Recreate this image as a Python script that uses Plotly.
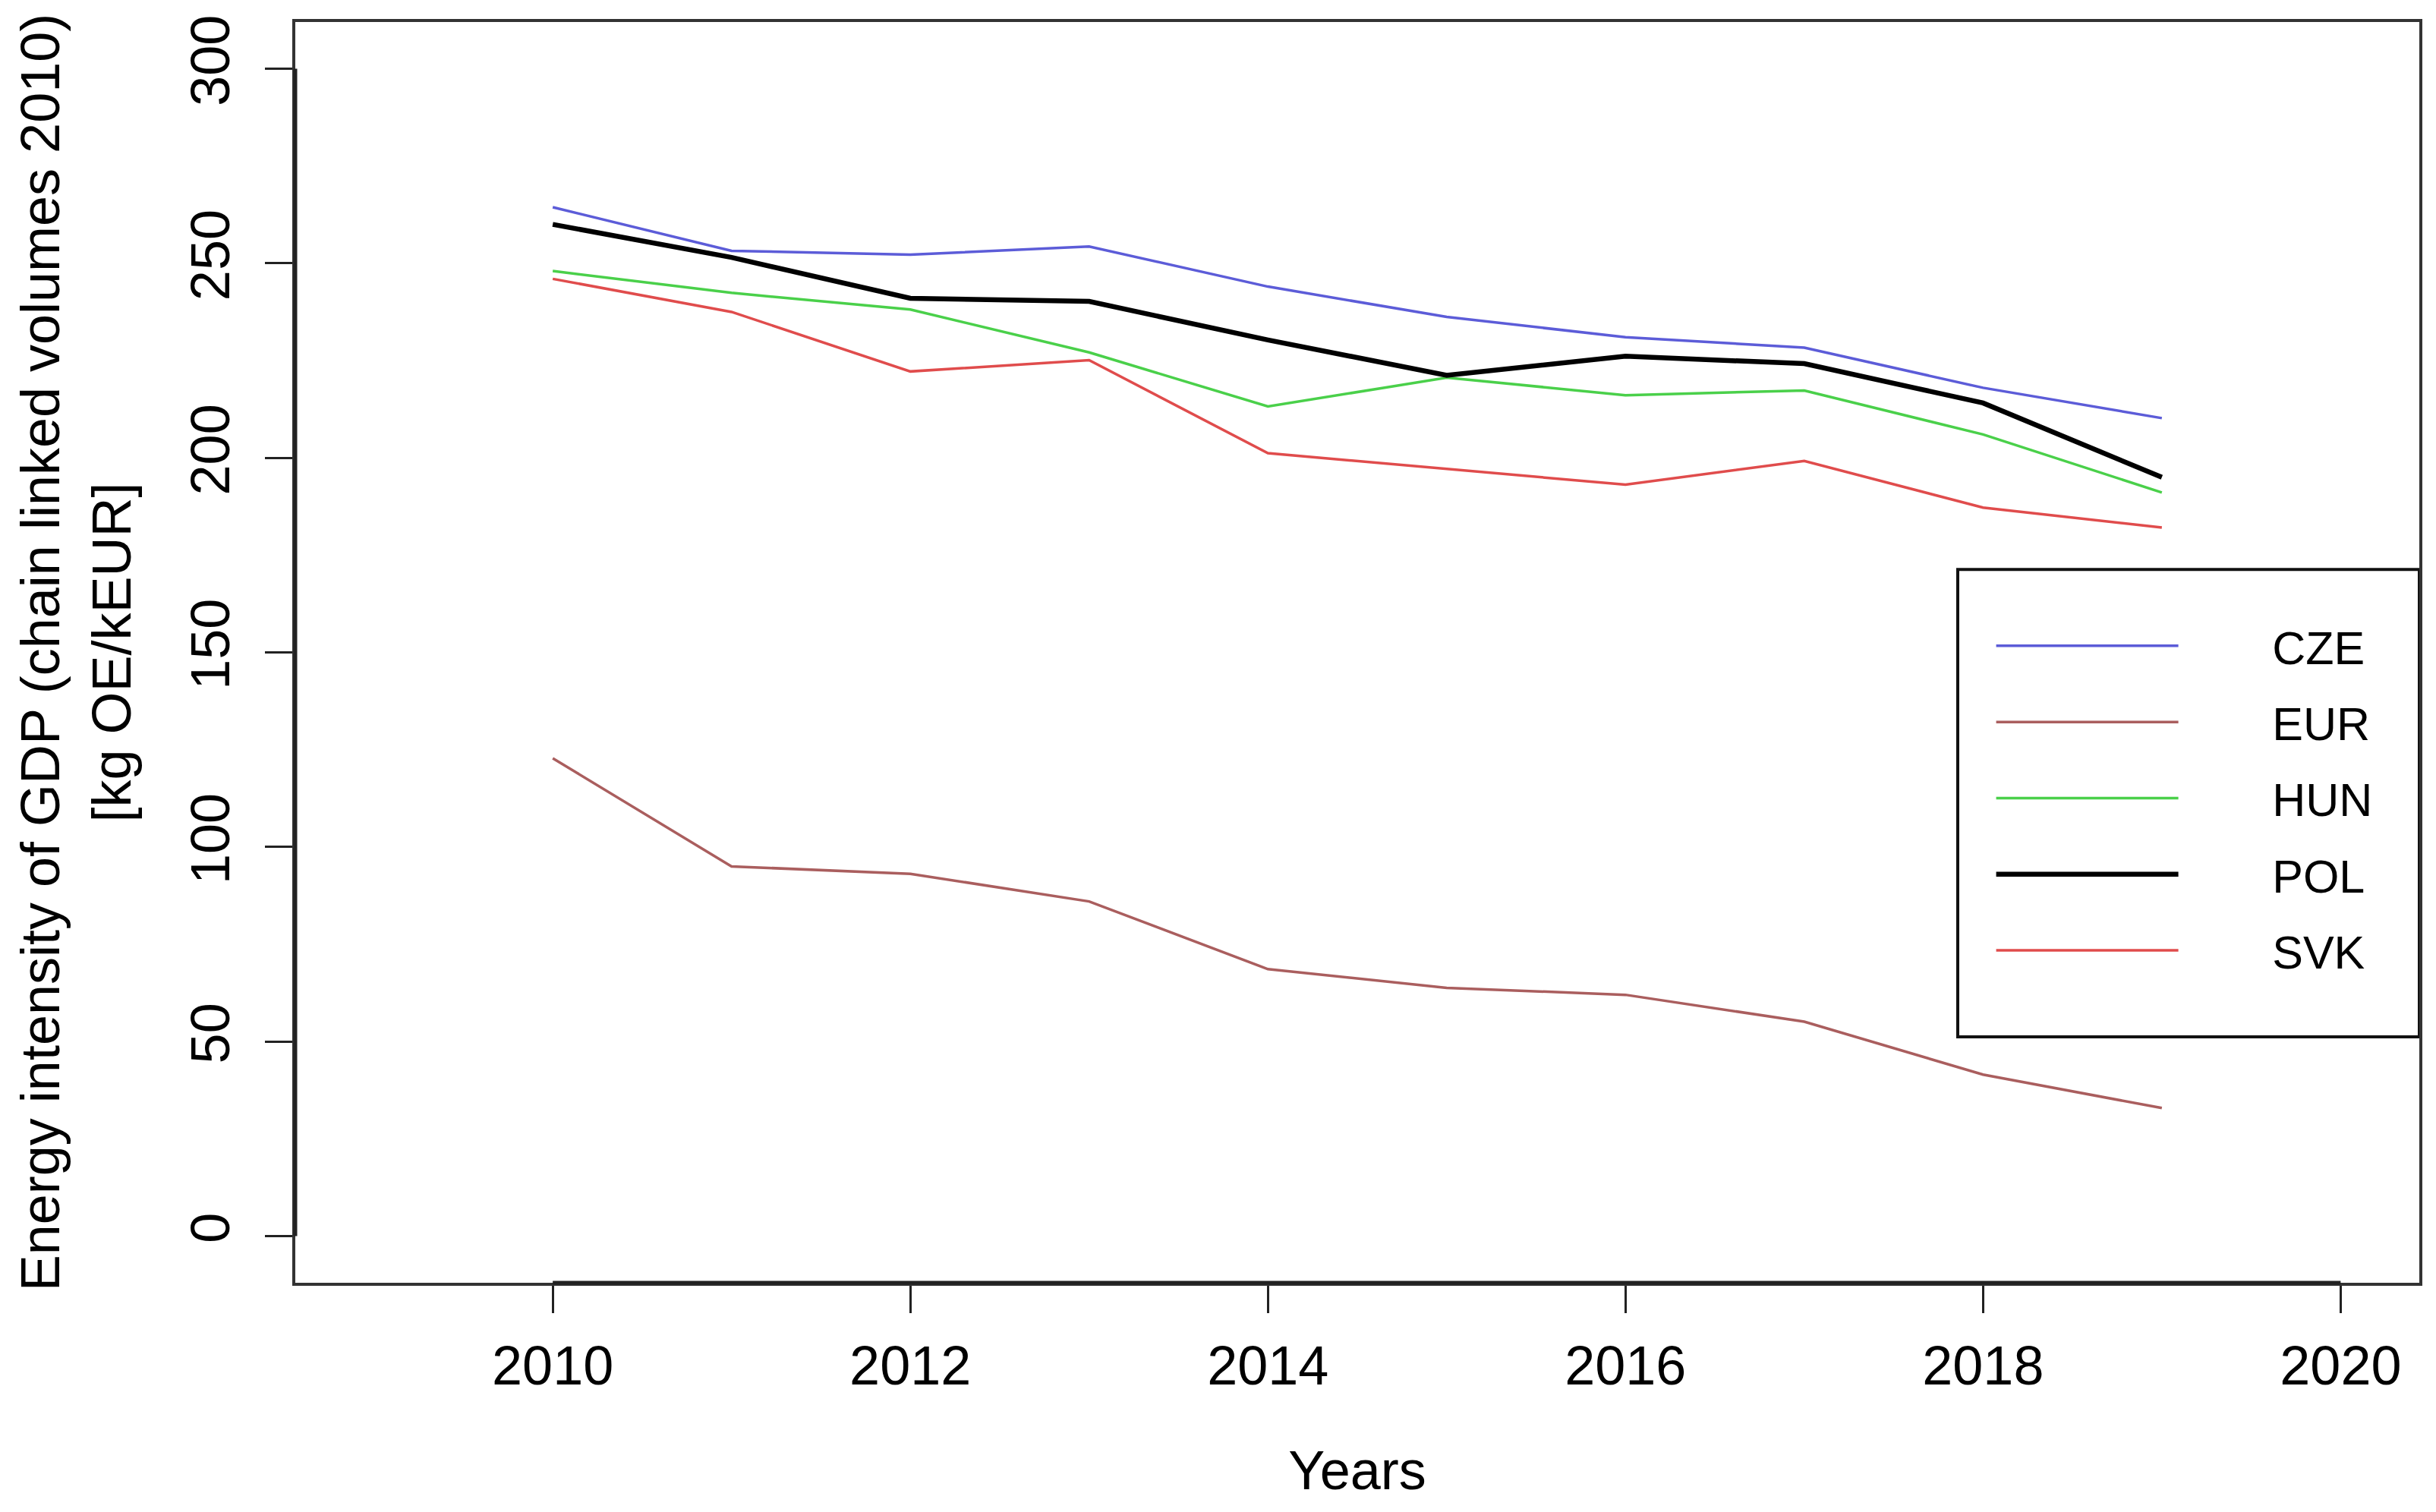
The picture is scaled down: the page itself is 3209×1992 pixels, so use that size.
import plotly.graph_objects as go

years = [2010, 2011, 2012, 2013, 2014, 2015, 2016, 2017, 2018, 2019]
CZE = [264.4, 253.2, 252.2, 254.3, 244.0, 236.2, 231.0, 228.3, 218.0, 210.2]
EUR = [122.8, 95.0, 93.1, 86.0, 68.6, 63.8, 62.0, 55.1, 41.5, 32.9]
HUN = [248.0, 242.4, 238.1, 227.1, 213.2, 220.6, 216.1, 217.3, 206.0, 191.1]
POL = [260.0, 251.5, 241.0, 240.2, 230.3, 221.2, 226.1, 224.2, 214.1, 195.0]
SVK = [246.0, 237.5, 222.2, 225.1, 201.2, 197.1, 193.1, 199.2, 187.2, 182.1]

series_names = ["CZE", "EUR", "HUN", "POL", "SVK"]
series_values = [CZE, EUR, HUN, POL, SVK]
series_colors = ["#5c5cd8", "#aa5e5e", "#4ad04a", "#000000", "#e04c4c"]
series_widths = [3.5, 3.5, 3.5, 6.5, 3.5]

x_ticks = [2010, 2012, 2014, 2016, 2018, 2020]
y_ticks = [0, 50, 100, 150, 200, 250, 300]

FONT = "Liberation Sans, Arial, Helvetica, sans-serif"
PAD = "\u00a0" * 7

fig = go.Figure()
for name, vals, col, w in zip(series_names, series_values, series_colors, series_widths):
    fig.add_trace(go.Scatter(
        x=years, y=vals, mode="lines", name=PAD + name, legendgroup=name,
        line=dict(color=col, width=w),
    ))

# legend frame
fig.add_shape(type="rect", xref="paper", yref="paper",
              x0=0.7827, x1=1.0, y0=0.195, y1=0.5657,
              line=dict(color="#111", width=4), fillcolor="white", layer="below")

# R-style axis segments spanning first to last tick
fig.add_shape(type="line", xref="x", yref="paper",
              x0=x_ticks[0], x1=x_ticks[-1], y0=0, y1=0,
              line=dict(color="#222", width=5), layer="above")
fig.add_shape(type="line", xref="paper", yref="y",
              x0=0, x1=0, y0=y_ticks[0], y1=y_ticks[-1],
              line=dict(color="#222", width=5), layer="above")

fig.update_layout(
    width=3209, height=1992,
    margin=dict(l=381, r=30, t=15, b=310),
    paper_bgcolor="white", plot_bgcolor="white",
    font=dict(family=FONT, size=72, color="black"),
    showlegend=True,
    legend=dict(
        x=0.799, y=0.533, xanchor="left", yanchor="top",
        borderwidth=0, bgcolor="rgba(0,0,0,0)",
        font=dict(size=61, family=FONT),
        itemwidth=240, tracegroupgap=18, traceorder="grouped",
    ),
)
fig.update_xaxes(
    range=[2008.56, 2020.44], tickmode="array", tickvals=x_ticks,
    ticks="outside", ticklen=36, tickwidth=3, tickcolor="#222",
    showline=True, mirror=True, linewidth=4, linecolor="#333",
    showgrid=False, zeroline=False, ticklabelstandoff=8,
    title=dict(text="Years", font=dict(size=72), standoff=74),
)
fig.update_yaxes(
    range=[-12, 312], tickmode="array", tickvals=y_ticks, tickangle=-90,
    ticks="outside", ticklen=36, tickwidth=3, tickcolor="#222",
    showline=True, mirror=True, linewidth=4, linecolor="#333",
    showgrid=False, zeroline=False, ticklabelstandoff=18,
    title=dict(text="Energy intensity of GDP (chain linked volumes 2010)<br>[kg OE/kEUR]",
               font=dict(size=72), standoff=42),
)

fig.write_html("out.html")
